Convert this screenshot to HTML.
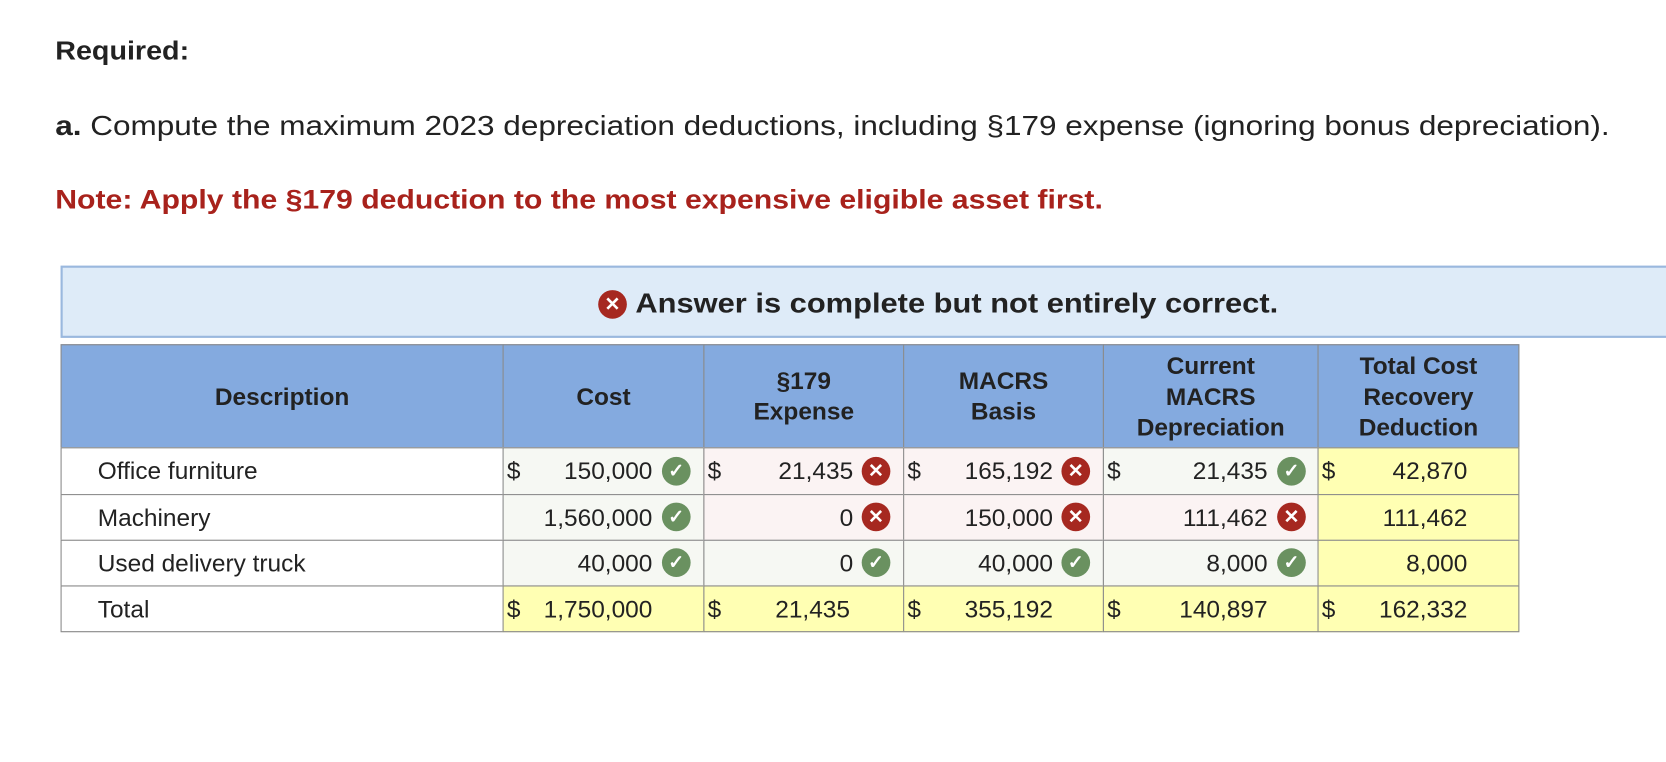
<!DOCTYPE html>
<html><head><meta charset="utf-8"><style>
body{margin:0;width:1666px;height:762px;background:#fff;position:relative;overflow:hidden;font-family:"Liberation Sans",Arial,sans-serif;color:#222}
#w{position:absolute;left:0;top:0;width:1568px;height:717px;transform:scale(1.0625);transform-origin:0 0}
.a{position:absolute}
.c{position:absolute;box-sizing:border-box;border:1px solid #8a8a8a}
.h{background:#84aadf;font-weight:bold;font-size:23px;line-height:29px;text-align:center;display:flex;align-items:center;justify-content:center;color:#222}
.t{font-size:23px;position:absolute;line-height:24px}
.ic{position:absolute;width:27px;height:27px;border-radius:50%;color:#fff;font-size:18px;line-height:27px;text-align:center;font-weight:bold}
.ok{background:#6a9160}.no{background:#a62820}
.g{background:#f6f8f3}.p{background:#fbf3f3}.y{background:#ffffb3}.w{background:#fff}
</style></head><body><div id="w">
<svg class="a" style="left:0;top:0" width="1568" height="310">
<text x="52" y="56" font-family="Liberation Sans" font-weight="bold" font-size="24" fill="#222" textLength="126" lengthAdjust="spacingAndGlyphs">Required:</text>
<text x="52" y="127" font-family="Liberation Sans" font-size="26" fill="#222" textLength="1463" lengthAdjust="spacingAndGlyphs"><tspan font-weight="bold">a.</tspan> Compute the maximum 2023 depreciation deductions, including §179 expense (ignoring bonus depreciation).</text>
<text x="52" y="196" font-family="Liberation Sans" font-weight="bold" font-size="25" fill="#a8221c" textLength="986" lengthAdjust="spacingAndGlyphs">Note: Apply the §179 deduction to the most expensive eligible asset first.</text>
</svg>
<div class="a" style="left:57px;top:250px;width:1530px;height:68px;box-sizing:border-box;background:#deebf8;border:2px solid #9ab8de"></div>
<div class="ic no" style="left:563px;top:273px">✕</div>
<svg class="a" style="left:0;top:250px" width="1568" height="68"><text x="598" y="44" font-family="Liberation Sans" font-weight="bold" font-size="26" fill="#222" textLength="605" lengthAdjust="spacingAndGlyphs">Answer is complete but not entirely correct.</text></svg>

<div class="a" style="left:57px;top:324px;width:1373px;height:271px;box-sizing:border-box;border:1px solid #8a8a8a"></div>
<div class="c h" style="left:57px;top:324px;width:417px;height:98px">Description</div>
<div class="c h" style="left:473px;top:324px;width:190px;height:98px">Cost</div>
<div class="c h" style="left:662px;top:324px;width:189px;height:98px">§179<br>Expense</div>
<div class="c h" style="left:850px;top:324px;width:189px;height:98px">MACRS<br>Basis</div>
<div class="c h" style="left:1038px;top:324px;width:203px;height:98px">Current<br>MACRS<br>Depreciation</div>
<div class="c h" style="left:1240px;top:324px;width:190px;height:98px">Total Cost<br>Recovery<br>Deduction</div>

<div class="c w" style="left:57px;top:421px;width:417px;height:45px"></div>
<div class="c w" style="left:57px;top:465px;width:417px;height:44px"></div>
<div class="c w" style="left:57px;top:508px;width:417px;height:44px"></div>
<div class="c w" style="left:57px;top:551px;width:417px;height:44px"></div>

<div class="c g" style="left:473px;top:421px;width:190px;height:45px"></div>
<div class="c g" style="left:473px;top:465px;width:190px;height:44px"></div>
<div class="c g" style="left:473px;top:508px;width:190px;height:44px"></div>
<div class="c y" style="left:473px;top:551px;width:190px;height:44px"></div>

<div class="c p" style="left:662px;top:421px;width:189px;height:45px"></div>
<div class="c p" style="left:662px;top:465px;width:189px;height:44px"></div>
<div class="c g" style="left:662px;top:508px;width:189px;height:44px"></div>
<div class="c y" style="left:662px;top:551px;width:189px;height:44px"></div>

<div class="c p" style="left:850px;top:421px;width:189px;height:45px"></div>
<div class="c p" style="left:850px;top:465px;width:189px;height:44px"></div>
<div class="c g" style="left:850px;top:508px;width:189px;height:44px"></div>
<div class="c y" style="left:850px;top:551px;width:189px;height:44px"></div>

<div class="c g" style="left:1038px;top:421px;width:203px;height:45px"></div>
<div class="c p" style="left:1038px;top:465px;width:203px;height:44px"></div>
<div class="c g" style="left:1038px;top:508px;width:203px;height:44px"></div>
<div class="c y" style="left:1038px;top:551px;width:203px;height:44px"></div>

<div class="c y" style="left:1240px;top:421px;width:190px;height:45px"></div>
<div class="c y" style="left:1240px;top:465px;width:190px;height:44px"></div>
<div class="c y" style="left:1240px;top:508px;width:190px;height:44px"></div>
<div class="c y" style="left:1240px;top:551px;width:190px;height:44px"></div>

<div class="t" style="left:92px;top:431px">Office furniture</div>
<div class="t" style="left:92px;top:475px">Machinery</div>
<div class="t" style="left:92px;top:518px">Used delivery truck</div>
<div class="t" style="left:92px;top:561px">Total</div>

<div class="t" style="left:477px;top:431px">$</div>
<div class="t" style="left:666px;top:431px">$</div>
<div class="t" style="left:854px;top:431px">$</div>
<div class="t" style="left:1042px;top:431px">$</div>
<div class="t" style="left:1244px;top:431px">$</div>
<div class="t" style="left:477px;top:561px">$</div>
<div class="t" style="left:666px;top:561px">$</div>
<div class="t" style="left:854px;top:561px">$</div>
<div class="t" style="left:1042px;top:561px">$</div>
<div class="t" style="left:1244px;top:561px">$</div>

<div class="t" style="right:954px;top:431px">150,000</div>
<div class="t" style="right:954px;top:475px">1,560,000</div>
<div class="t" style="right:954px;top:518px">40,000</div>
<div class="t" style="right:954px;top:561px">1,750,000</div>

<div class="t" style="right:765px;top:431px">21,435</div>
<div class="t" style="right:765px;top:475px">0</div>
<div class="t" style="right:765px;top:518px">0</div>
<div class="t" style="right:768px;top:561px">21,435</div>

<div class="t" style="right:577px;top:431px">165,192</div>
<div class="t" style="right:577px;top:475px">150,000</div>
<div class="t" style="right:577px;top:518px">40,000</div>
<div class="t" style="right:577px;top:561px">355,192</div>

<div class="t" style="right:375px;top:431px">21,435</div>
<div class="t" style="right:375px;top:475px">111,462</div>
<div class="t" style="right:375px;top:518px">8,000</div>
<div class="t" style="right:375px;top:561px">140,897</div>

<div class="t" style="right:187px;top:431px">42,870</div>
<div class="t" style="right:187px;top:475px">111,462</div>
<div class="t" style="right:187px;top:518px">8,000</div>
<div class="t" style="right:187px;top:561px">162,332</div>

<div class="ic ok" style="left:623px;top:430px">✓</div>
<div class="ic ok" style="left:623px;top:473px">✓</div>
<div class="ic ok" style="left:623px;top:516px">✓</div>

<div class="ic no" style="left:811px;top:430px">✕</div>
<div class="ic no" style="left:811px;top:473px">✕</div>
<div class="ic ok" style="left:811px;top:516px">✓</div>

<div class="ic no" style="left:999px;top:430px">✕</div>
<div class="ic no" style="left:999px;top:473px">✕</div>
<div class="ic ok" style="left:999px;top:516px">✓</div>

<div class="ic ok" style="left:1202px;top:430px">✓</div>
<div class="ic no" style="left:1202px;top:473px">✕</div>
<div class="ic ok" style="left:1202px;top:516px">✓</div>
</div></body></html>
